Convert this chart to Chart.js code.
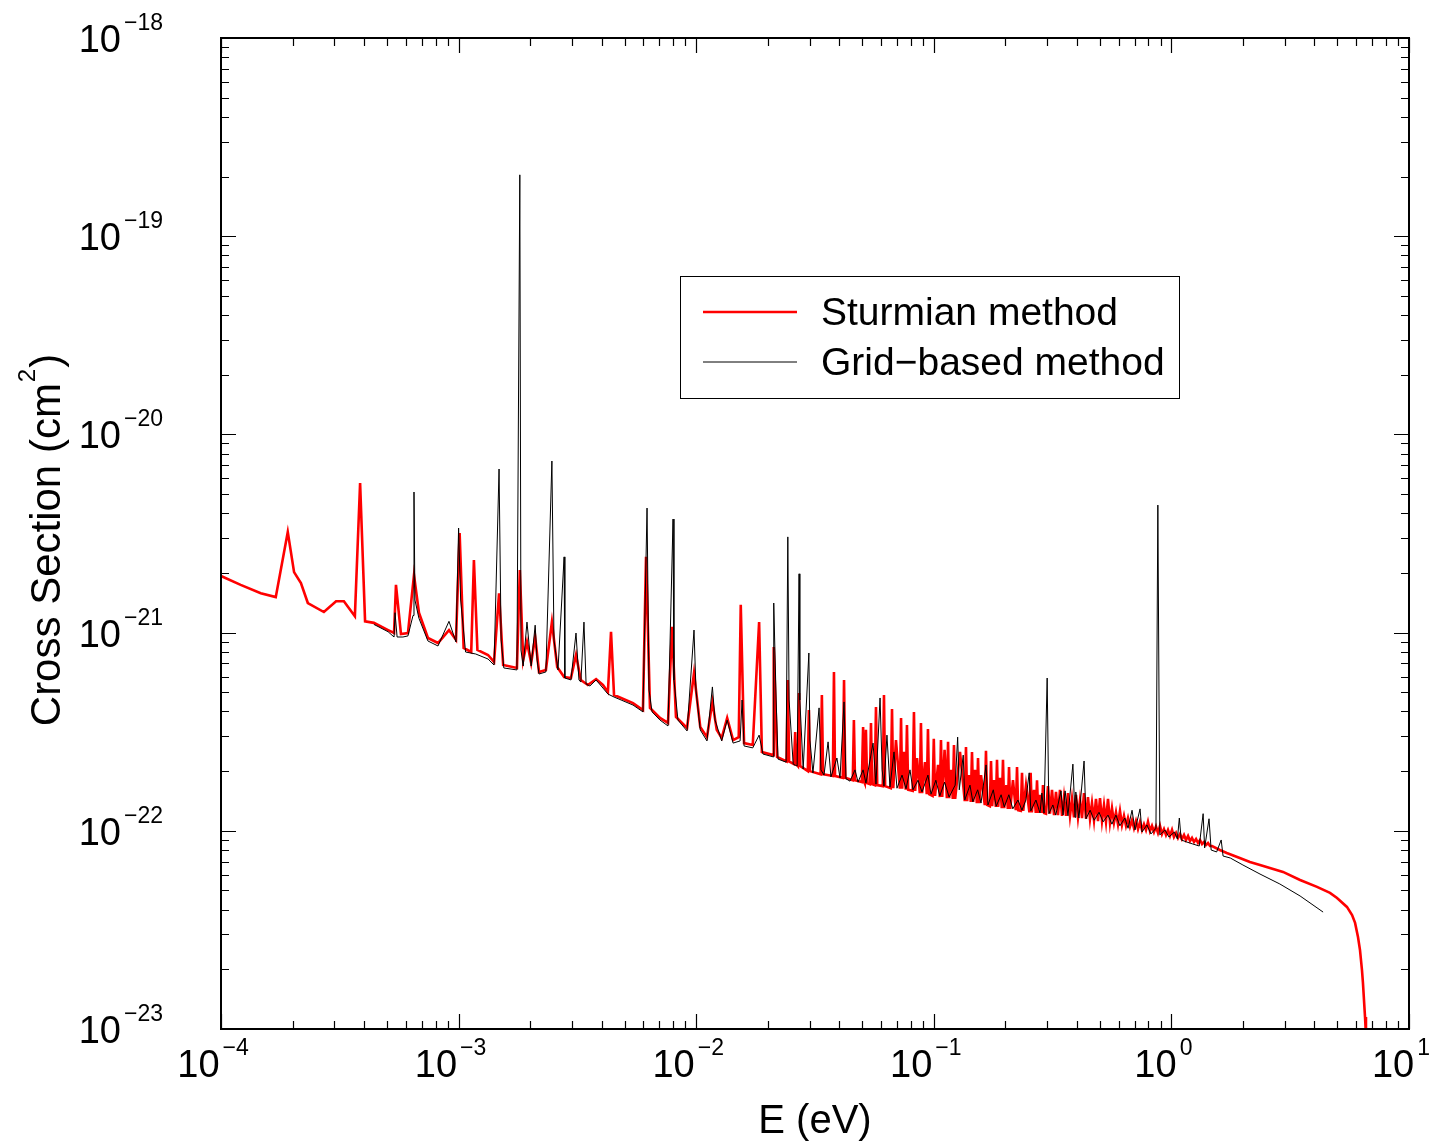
<!DOCTYPE html>
<html>
<head>
<meta charset="utf-8">
<title>Cross Section</title>
<script src="https://cdn.jsdelivr.net/npm/chart.js@4.4.0/dist/chart.umd.min.js"></script>
<style>
  html, body { margin: 0; padding: 0; background: #fff; overflow: hidden; }
  #box { position: relative; width: 1433px; height: 1145px; }
</style>
</head>
<body>
<div id="box"><canvas id="myChart"></canvas></div>
<script>
// energies (eV) and cross sections (cm^2)

// Sturmian method (red)
var sturmE = [
  // low energy part, broad resonances
  1.00e-4, 1.21e-4, 1.47e-4, 1.70e-4, 1.91e-4, 2.03e-4, 2.17e-4, 2.32e-4, 2.71e-4, 3.05e-4,
  3.29e-4, 3.66e-4, 3.85e-4, 4.04e-4, 4.40e-4, 5.05e-4, 5.35e-4, 5.45e-4, 5.72e-4, 6.12e-4,
  6.49e-4, 6.81e-4, 7.43e-4, 8.19e-4, 9.11e-4, 9.75e-4, 1.01e-3, 1.05e-3, 1.13e-3, 1.16e-3,
  1.20e-3, 1.33e-3, 1.41e-3, 1.48e-3, 1.54e-3, 1.76e-3, 1.81e-3, 1.87e-3, 1.94e-3, 2.02e-3,
  2.10e-3, 2.18e-3, 2.33e-3, 2.47e-3, 2.60e-3, 2.78e-3, 2.97e-3, 3.12e-3, 3.27e-3, 3.50e-3,
  3.79e-3, 4.05e-3, 4.25e-3, 4.38e-3, 4.51e-3, 4.83e-3, 5.42e-3, 5.97e-3, 6.15e-3, 6.39e-3,
  7.04e-3, 7.61e-3, 7.91e-3, 8.22e-3, 9.15e-3, 9.79e-3, 1.04e-2, 1.11e-2, 1.17e-2, 1.22e-2,
  1.28e-2, 1.35e-2, 1.43e-2, 1.51e-2, 1.54e-2, 1.59e-2, 1.73e-2, 1.84e-2, 1.89e-2, 2.11e-2,
  2.12e-2, 2.19e-2,
  // narrow resonances
  2.40e-2, 2.43e-2, 2.46e-2, 2.58e-2, 2.61e-2, 2.64e-2, 2.68e-2, 2.71e-2, 2.74e-2, 2.95e-2,
  2.98e-2, 3.01e-2, 3.34e-2, 3.38e-2, 3.42e-2, 3.76e-2, 3.80e-2, 3.84e-2, 4.14e-2, 4.19e-2,
  4.24e-2, 4.56e-2, 4.61e-2, 4.66e-2, 4.98e-2, 5.04e-2, 5.10e-2, 5.12e-2, 5.18e-2, 5.24e-2,
  5.38e-2, 5.44e-2, 5.50e-2, 5.64e-2, 5.71e-2, 5.78e-2, 6.10e-2, 6.17e-2, 6.24e-2, 6.59e-2,
  6.67e-2, 6.75e-2, 6.93e-2, 7.20e-2, 7.28e-2, 7.36e-2, 7.49e-2, 7.62e-2, 7.71e-2, 7.80e-2,
  8.15e-2, 8.25e-2, 8.35e-2, 8.50e-2, 8.73e-2, 8.83e-2, 8.93e-2, 9.18e-2, 9.34e-2, 9.45e-2,
  9.56e-2, 9.88e-2, 0.1000, 0.1012, 0.1042, 0.1060, 0.1072, 0.1085, 0.1110, 0.1135,
  0.1148, 0.1161, 0.1181, 0.1202, 0.1216, 0.1230, 0.1289, 0.1350, 0.1366, 0.1382,
  0.1407, 0.1431, 0.1448, 0.1465, 0.1491, 0.1517, 0.1535, 0.1553, 0.1580, 0.1639,
  0.1658, 0.1677, 0.1721, 0.1741, 0.1761, 0.1792, 0.1824, 0.1845, 0.1867, 0.1899,
  0.1932, 0.1955, 0.1978, 0.2020, 0.2049, 0.2073, 0.2097, 0.2154, 0.2214, 0.2240,
  0.2266, 0.2324, 0.2351, 0.2379, 0.2444, 0.2526, 0.2556, 0.2586, 0.2640, 0.2687,
  0.2719, 0.2751, 0.2801, 0.2848, 0.2881, 0.2915,
  // dense band
  0.2966, 0.3024, 0.3084, 0.3144, 0.3206, 0.3268, 0.3332, 0.3397, 0.3464, 0.3532,
  0.3601, 0.3671, 0.3743, 0.3816, 0.3891, 0.3967, 0.4045, 0.4124, 0.4205, 0.4287,
  0.4371, 0.4456, 0.4544, 0.4632, 0.4723, 0.4815, 0.4910, 0.5006, 0.5104, 0.5204,
  0.5305, 0.5409, 0.5515, 0.5623, 0.5733, 0.5845, 0.5959, 0.6076, 0.6195, 0.6316,
  0.6440, 0.6566, 0.6694, 0.6825, 0.6959, 0.7095, 0.7234, 0.7375, 0.7520, 0.7667,
  0.7817, 0.7970, 0.8126, 0.8285, 0.8447, 0.8613, 0.8781, 0.8953, 0.9128, 0.9307,
  0.9489, 0.9675, 0.9865, 1.006, 1.025, 1.046, 1.066, 1.087, 1.108, 1.130,
  1.152, 1.175, 1.198, 1.221, 1.245, 1.270, 1.294, 1.320, 1.346, 1.372,
  1.399, 1.426, 1.454, 1.483,
  // smooth tail and cut-off
  1.60, 1.71, 1.94, 2.14, 2.36, 2.95, 3.48, 4.10, 4.65, 4.98,
  5.48, 5.76, 5.93, 6.10, 6.22, 6.34, 6.40, 6.53, 6.59
];
var sturmCS = [
  1.93e-21, 1.74e-21, 1.58e-21, 1.51e-21, 3.22e-21, 2.02e-21, 1.78e-21, 1.41e-21, 1.27e-21, 1.44e-21,
  1.44e-21, 1.21e-21, 5.69e-21, 1.14e-21, 1.12e-21, 1.03e-21, 9.95e-22, 1.74e-21, 9.84e-22, 9.95e-22,
  1.95e-21, 1.26e-21, 9.39e-22, 8.86e-22, 1.03e-21, 9.18e-22, 3.18e-21, 8.36e-22, 7.98e-22, 2.32e-21,
  8.17e-22, 7.71e-22, 7.11e-22, 1.58e-21, 6.86e-22, 6.63e-22, 2.07e-21, 7.27e-22, 8.97e-22, 7.02e-22,
  9.50e-22, 6.33e-22, 6.48e-22, 1.13e-21, 6.71e-22, 5.97e-22, 5.90e-22, 7.71e-22, 5.77e-22, 5.44e-22,
  5.83e-22, 5.44e-22, 5.02e-22, 1.01e-21, 4.84e-22, 4.68e-22, 4.41e-22, 4.07e-22, 2.41e-21, 4.17e-22,
  3.71e-22, 3.50e-22, 1.07e-21, 3.75e-22, 3.30e-22, 6.25e-22, 3.34e-22, 2.97e-22, 4.47e-22, 3.23e-22,
  2.94e-22, 3.71e-22, 2.87e-22, 2.97e-22, 1.38e-21, 2.77e-22, 2.71e-22, 1.13e-21, 2.50e-22, 2.41e-22,
  8.46e-22, 2.36e-22,
  2.24e-22, 5.77e-22, 2.24e-22, 2.17e-22, 3.15e-22, 2.17e-22, 2.12e-22, 4.96e-22, 2.12e-22, 2.00e-22,
  4.07e-22, 2.00e-22, 1.93e-22, 4.84e-22, 1.93e-22, 1.89e-22, 6.33e-22, 1.89e-22, 1.85e-22, 5.77e-22,
  1.85e-22, 1.80e-22, 3.62e-22, 1.80e-22, 1.76e-22, 3.34e-22, 1.76e-22, 1.74e-22, 3.23e-22, 1.74e-22,
  1.72e-22, 3.50e-22, 1.72e-22, 1.70e-22, 4.21e-22, 1.70e-22, 1.68e-22, 4.84e-22, 1.68e-22, 1.64e-22,
  4.12e-22, 1.64e-22, 2.87e-22, 1.63e-22, 3.71e-22, 1.63e-22, 2.50e-22, 1.61e-22, 3.42e-22, 1.61e-22,
  1.59e-22, 3.98e-22, 1.59e-22, 2.33e-22, 1.55e-22, 3.50e-22, 1.55e-22, 2.22e-22, 1.53e-22, 3.26e-22,
  1.53e-22, 1.50e-22, 2.91e-22, 1.50e-22, 2.15e-22, 1.48e-22, 2.87e-22, 1.48e-22, 2.56e-22, 1.46e-22,
  2.81e-22, 1.46e-22, 2.03e-22, 1.45e-22, 2.71e-22, 1.45e-22, 2.50e-22, 1.41e-22, 2.65e-22, 1.41e-22,
  1.91e-22, 1.40e-22, 2.50e-22, 1.40e-22, 2.03e-22, 1.38e-22, 2.33e-22, 1.38e-22, 1.91e-22, 1.35e-22,
  2.53e-22, 1.35e-22, 1.33e-22, 2.25e-22, 1.33e-22, 1.80e-22, 1.32e-22, 2.28e-22, 1.32e-22, 1.85e-22,
  1.30e-22, 2.28e-22, 1.30e-22, 1.70e-22, 1.29e-22, 2.10e-22, 1.29e-22, 1.80e-22, 1.27e-22, 2.10e-22,
  1.27e-22, 1.26e-22, 1.96e-22, 1.26e-22, 1.70e-22, 1.24e-22, 1.96e-22, 1.24e-22, 1.61e-22, 1.23e-22,
  1.80e-22, 1.23e-22, 1.52e-22, 1.23e-22, 1.70e-22, 1.23e-22,
  1.22e-22, 1.68e-22, 1.22e-22, 1.61e-22, 1.20e-22, 1.57e-22, 1.20e-22, 1.61e-22, 1.19e-22, 1.48e-22,
  1.19e-22, 1.55e-22, 1.19e-22, 1.45e-22, 1.17e-22, 1.52e-22, 1.17e-22, 1.43e-22, 1.16e-22, 1.55e-22,
  1.15e-22, 1.48e-22, 1.15e-22, 1.38e-22, 1.13e-22, 1.45e-22, 1.12e-22, 1.46e-22, 1.12e-22, 1.35e-22,
  1.11e-22, 1.45e-22, 1.10e-22, 1.30e-22, 1.10e-22, 1.24e-22, 1.08e-22, 1.26e-22, 1.07e-22, 1.19e-22,
  1.06e-22, 1.16e-22, 1.05e-22, 1.13e-22, 1.03e-22, 1.12e-22, 1.02e-22, 1.11e-22, 1.01e-22, 1.08e-22,
  1.01e-22, 1.11e-22, 9.98e-23, 1.06e-22, 9.86e-23, 1.05e-22, 9.75e-23, 1.06e-22, 9.64e-23, 1.02e-22,
  9.53e-23, 1.01e-22, 9.42e-23, 1.01e-22, 9.31e-23, 9.75e-23, 9.20e-23, 9.64e-23, 9.09e-23, 9.53e-23,
  8.99e-23, 9.42e-23, 8.88e-23, 9.20e-23, 8.78e-23, 9.09e-23, 8.68e-23, 8.99e-23, 8.58e-23, 8.78e-23,
  8.48e-23, 8.68e-23, 8.38e-23, 8.38e-23,
  8.00e-23, 7.73e-23, 7.29e-23, 6.96e-23, 6.72e-23, 6.20e-23, 5.65e-23, 5.21e-23, 4.86e-23, 4.58e-23,
  4.13e-23, 3.76e-23, 3.43e-23, 2.91e-23, 2.50e-23, 1.98e-23, 1.71e-23, 1.15e-23, 9.3e-24
];

// Grid-based method (black)
var gridE = [
  4.40e-4, 5.05e-4, 5.35e-4, 5.40e-4, 5.51e-4, 5.83e-4, 6.12e-4, 6.43e-4, 6.49e-4, 6.55e-4,
  6.81e-4, 7.43e-4, 8.19e-4, 9.11e-4, 9.75e-4, 1.00e-3, 1.02e-3, 1.07e-3, 1.18e-3, 1.33e-3,
  1.41e-3, 1.48e-3, 1.51e-3, 1.55e-3, 1.76e-3, 1.81e-3, 1.83e-3, 1.87e-3, 1.94e-3, 2.02e-3,
  2.10e-3, 2.14e-3, 2.18e-3, 2.33e-3, 2.47e-3, 2.52e-3, 2.62e-3, 2.78e-3, 2.80e-3, 2.97e-3,
  3.12e-3, 3.21e-3, 3.27e-3, 3.37e-3, 3.44e-3, 3.57e-3, 3.79e-3, 4.05e-3, 4.25e-3, 4.51e-3,
  4.83e-3, 5.42e-3, 5.97e-3, 6.21e-3, 6.33e-3, 6.52e-3, 7.04e-3, 7.61e-3, 7.99e-3, 8.06e-3,
  8.38e-3, 9.15e-3, 9.79e-3, 9.98e-3, 1.04e-2, 1.11e-2, 1.17e-2, 1.20e-2, 1.28e-2, 1.35e-2,
  1.43e-2, 1.53e-2, 1.56e-2, 1.59e-2, 1.73e-2, 1.84e-2, 1.91e-2, 2.11e-2, 2.12e-2, 2.17e-2,
  2.21e-2, 2.39e-2, 2.43e-2, 2.46e-2, 2.56e-2, 2.66e-2, 2.71e-2, 2.73e-2, 2.82e-2, 2.98e-2,
  3.01e-2, 3.10e-2, 3.29e-2, 3.35e-2, 3.45e-2, 3.59e-2, 3.69e-2, 3.91e-2, 4.03e-2, 4.19e-2,
  4.27e-2, 4.44e-2, 4.66e-2, 4.80e-2, 5.04e-2, 5.18e-2, 5.55e-2, 5.71e-2, 5.94e-2, 6.06e-2,
  6.17e-2, 6.35e-2, 6.54e-2, 6.80e-2, 7.00e-2, 7.35e-2, 7.64e-2, 7.94e-2, 8.17e-2, 8.58e-2,
  8.92e-2, 9.45e-2, 9.73e-2, 0.102, 0.106, 0.111, 0.116, 0.123, 0.126, 0.128,
  0.133, 0.135, 0.142, 0.146, 0.153, 0.158, 0.166, 0.169, 0.178, 0.183,
  0.192, 0.198, 0.207, 0.215, 0.226, 0.235, 0.244, 0.252, 0.256, 0.269,
  0.280, 0.285, 0.291, 0.300, 0.305, 0.317, 0.326, 0.343, 0.350, 0.357,
  0.367, 0.385, 0.393, 0.396, 0.408, 0.429, 0.437, 0.455, 0.473, 0.496,
  0.516, 0.541, 0.562, 0.584, 0.607, 0.637, 0.657, 0.683, 0.703, 0.738,
  0.752, 0.789, 0.820, 0.861, 0.877, 0.894, 0.939, 0.976, 1.03, 1.06,
  1.08, 1.10, 1.16, 1.23, 1.31, 1.36, 1.38, 1.44, 1.47, 1.55,
  1.62, 1.65, 1.77, 2.00, 2.36, 2.86, 3.48, 4.35
];
var gridCS = [
  1.10e-21, 1.01e-21, 9.50e-22, 1.26e-21, 9.50e-22, 9.50e-22, 9.62e-22, 1.22e-21, 5.12e-21, 1.46e-21,
  1.18e-21, 9.07e-22, 8.56e-22, 1.14e-21, 8.97e-22, 3.37e-21, 1.46e-21, 7.98e-22, 7.80e-22, 7.36e-22,
  6.86e-22, 6.69e-21, 9.18e-22, 6.63e-22, 6.48e-22, 2.04e-19, 8.17e-22, 6.78e-22, 1.13e-21, 6.78e-22,
  1.09e-21, 7.27e-22, 6.18e-22, 6.33e-22, 7.34e-21, 9.18e-22, 6.48e-22, 2.41e-21, 5.90e-22, 5.77e-22,
  9.95e-22, 5.77e-22, 5.63e-22, 1.13e-21, 5.50e-22, 5.38e-22, 5.77e-22, 5.25e-22, 4.90e-22, 4.73e-22,
  4.57e-22, 4.31e-22, 3.98e-22, 4.25e-21, 5.13e-22, 3.98e-22, 3.62e-22, 3.38e-22, 3.74e-21, 5.77e-22,
  3.62e-22, 3.19e-22, 1.03e-21, 5.13e-22, 3.23e-22, 2.84e-22, 5.32e-22, 3.62e-22, 2.84e-22, 3.62e-22,
  2.77e-22, 2.84e-22, 4.57e-22, 2.68e-22, 2.62e-22, 3.04e-22, 2.44e-22, 2.36e-22, 1.41e-21, 4.57e-22,
  2.30e-22, 2.22e-22, 3.04e-21, 4.57e-22, 2.17e-22, 2.12e-22, 1.98e-21, 4.57e-22, 2.05e-22, 7.89e-22,
  2.87e-22, 1.96e-22, 4.17e-22, 2.03e-22, 1.91e-22, 2.81e-22, 1.87e-22, 2.33e-22, 1.85e-22, 4.47e-22,
  1.83e-22, 1.78e-22, 2.03e-22, 1.76e-22, 2.03e-22, 1.74e-22, 2.77e-22, 1.72e-22, 4.68e-22, 2.03e-22,
  1.68e-22, 3.04e-22, 1.66e-22, 2.50e-22, 1.64e-22, 1.91e-22, 1.63e-22, 2.03e-22, 1.61e-22, 1.80e-22,
  1.57e-22, 1.91e-22, 1.53e-22, 1.80e-22, 1.50e-22, 1.76e-22, 1.48e-22, 1.70e-22, 2.97e-22, 1.61e-22,
  2.41e-22, 1.43e-22, 1.70e-22, 1.40e-22, 1.61e-22, 1.38e-22, 2.15e-22, 1.35e-22, 1.61e-22, 1.33e-22,
  1.52e-22, 1.32e-22, 1.52e-22, 1.29e-22, 1.43e-22, 1.27e-22, 1.43e-22, 1.96e-22, 1.26e-22, 1.43e-22,
  1.23e-22, 1.55e-22, 1.23e-22, 5.90e-22, 1.22e-22, 1.35e-22, 1.20e-22, 1.59e-22, 1.20e-22, 1.59e-22,
  1.19e-22, 2.17e-22, 1.17e-22, 1.57e-22, 1.16e-22, 2.25e-22, 1.15e-22, 1.27e-22, 1.13e-22, 1.24e-22,
  1.11e-22, 1.20e-22, 1.08e-22, 1.20e-22, 1.06e-22, 1.16e-22, 1.03e-22, 1.27e-22, 1.01e-22, 1.29e-22,
  9.86e-23, 1.07e-22, 9.64e-23, 1.03e-22, 4.40e-21, 9.53e-23, 1.01e-22, 9.31e-23, 9.86e-23, 9.09e-23,
  1.16e-22, 8.99e-23, 8.78e-23, 8.58e-23, 8.38e-23, 1.22e-22, 8.19e-23, 1.15e-22, 8.00e-23, 7.82e-23,
  8.99e-23, 7.46e-23, 7.29e-23, 6.72e-23, 6.05e-23, 5.39e-23, 4.69e-23, 3.89e-23
];

// axis ticks (major decades) and names
var xTicks = [1e-4, 1e-3, 1e-2, 1e-1, 1e0, 1e1];
var yTicks = [1e-23, 1e-22, 1e-21, 1e-20, 1e-19, 1e-18];
var xTitle = 'E (eV)';
var yTitle = ['Cross Section (cm', '2', ')'];
var seriesNames = ['Sturmian method', 'Grid\u2212based method'];

var FONT = '"Liberation Sans", Arial, Helvetica, sans-serif';

function toPoints(xs, ys) {
    var pts = [];
    for (var i = 0; i < xs.length; i++) {
        pts.push({ x: xs[i], y: ys[i] });
    }
    return pts;
}

// draws "10" with the exponent raised next to it
function drawPower(ctx, value, x, y, align) {
    var exp = Math.round(Math.log10(value));
    var base = '10';
    var sup = exp < 0 ? '\u2212' + Math.abs(exp) : String(exp);
    ctx.font = '38px ' + FONT;
    var wb = ctx.measureText(base).width;
    ctx.font = '23px ' + FONT;
    var ws = ctx.measureText(sup).width;
    var gap = 3;
    var left;
    if (align === 'right') {
        left = x - wb - gap - ws;
    } else {
        left = x - (wb + gap + ws) / 2;
    }
    ctx.textAlign = 'left';
    ctx.textBaseline = 'alphabetic';
    ctx.font = '38px ' + FONT;
    ctx.fillText(base, left, y);
    ctx.font = '23px ' + FONT;
    ctx.fillText(sup, left + wb + gap, y - 22);
}

// frame, inward ticks, tick labels, axis titles and the boxed legend
var decorations = {
    id: 'decorations',
    afterDatasetsDraw: function (chart) {
        var ctx = chart.ctx;
        var a = chart.chartArea;
        var sx = chart.scales.x;
        var sy = chart.scales.y;
        ctx.save();
        ctx.strokeStyle = '#000';
        ctx.fillStyle = '#000';

        // ticks, major and minor, on all four sides
        ctx.lineWidth = 1.2;
        ctx.beginPath();
        for (var i = 0; i < xTicks.length; i++) {
            for (var m = 1; m <= 9; m++) {
                var v = xTicks[i] * m;
                if (v > xTicks[xTicks.length - 1] * 1.0001) break;
                var px = Math.round(sx.getPixelForValue(v)) + 0.5;
                var len = m === 1 ? 15 : 8;
                ctx.moveTo(px, a.bottom); ctx.lineTo(px, a.bottom - len);
                ctx.moveTo(px, a.top); ctx.lineTo(px, a.top + len);
            }
        }
        for (var j = 0; j < yTicks.length; j++) {
            for (var n = 1; n <= 9; n++) {
                var w = yTicks[j] * n;
                if (w > yTicks[yTicks.length - 1] * 1.0001) break;
                var py = Math.round(sy.getPixelForValue(w)) + 0.5;
                var ln = n === 1 ? 15 : 8;
                ctx.moveTo(a.left, py); ctx.lineTo(a.left + ln, py);
                ctx.moveTo(a.right, py); ctx.lineTo(a.right - ln, py);
            }
        }
        ctx.stroke();

        // frame
        ctx.lineWidth = 2;
        ctx.strokeRect(a.left, a.top, a.right - a.left, a.bottom - a.top);

        // tick labels
        for (var k = 0; k < xTicks.length; k++) {
            drawPower(ctx, xTicks[k], sx.getPixelForValue(xTicks[k]) - 8, a.bottom + 48, 'center');
        }
        for (var q = 0; q < yTicks.length; q++) {
            drawPower(ctx, yTicks[q], a.left - 58, sy.getPixelForValue(yTicks[q]) + 14, 'right');
        }

        // x title
        ctx.font = '40px ' + FONT;
        ctx.textAlign = 'center';
        ctx.textBaseline = 'alphabetic';
        ctx.fillText(xTitle, (a.left + a.right) / 2, 1133);

        // y title, rotated, with the squared unit
        ctx.save();
        ctx.translate(60, 540);
        ctx.rotate(-Math.PI / 2);
        ctx.textAlign = 'left';
        ctx.font = '42px ' + FONT;
        var w1 = ctx.measureText(yTitle[0]).width;
        var w3 = ctx.measureText(yTitle[2]).width;
        ctx.font = '24px ' + FONT;
        var w2 = ctx.measureText(yTitle[1]).width + 2;
        var start = -(w1 + w2 + w3) / 2;
        ctx.font = '42px ' + FONT;
        ctx.fillText(yTitle[0], start, 0);
        ctx.fillText(yTitle[2], start + w1 + w2, 0);
        ctx.font = '24px ' + FONT;
        ctx.fillText(yTitle[1], start + w1 + 1, -25);
        ctx.restore();

        // legend box
        var lx = 680, ly = 276, lw = 499, lh = 122;
        ctx.fillStyle = '#fff';
        ctx.fillRect(lx, ly, lw, lh);
        ctx.lineWidth = 1;
        ctx.strokeStyle = '#000';
        ctx.strokeRect(lx + 0.5, ly + 0.5, lw, lh);
        var sets = chart.data.datasets;
        ctx.font = '39px ' + FONT;
        ctx.textAlign = 'left';
        for (var s = 0; s < seriesNames.length; s++) {
            var ds = null;
            for (var d = 0; d < sets.length; d++) {
                if (sets[d].label === seriesNames[s]) ds = sets[d];
            }
            var rowY = 312 + s * 50;
            ctx.strokeStyle = ds.borderColor;
            ctx.lineWidth = ds.borderWidth;
            ctx.beginPath();
            ctx.moveTo(703, rowY);
            ctx.lineTo(797, rowY);
            ctx.stroke();
            ctx.fillStyle = '#000';
            ctx.fillText(ds.label, 821, rowY + 13);
        }
        ctx.restore();
    }
};

var canvas = document.getElementById('myChart');
var myChart = new Chart(canvas, {
    type: 'line',
    data: {
        datasets: [
            {
                label: seriesNames[0],
                data: toPoints(sturmE, sturmCS),
                borderColor: '#ff0000',
                borderWidth: 2.6,
                pointRadius: 0,
                tension: 0,
                fill: false,
                order: 2
            },
            {
                label: seriesNames[1],
                data: toPoints(gridE, gridCS),
                borderColor: '#000000',
                borderWidth: 1,
                pointRadius: 0,
                tension: 0,
                fill: false,
                order: 1
            }
        ]
    },
    options: {
        responsive: true,
        maintainAspectRatio: false,
        animation: false,
        layout: { padding: { left: 221, right: 24, top: 38, bottom: 116 } },
        plugins: {
            legend: { display: false },
            tooltip: { enabled: false }
        },
        scales: {
            x: { type: 'logarithmic', min: 1e-4, max: 10, display: false },
            y: { type: 'logarithmic', min: 1e-23, max: 1e-18, display: false }
        }
    },
    plugins: [decorations]
});
</script>
</body>
</html>
